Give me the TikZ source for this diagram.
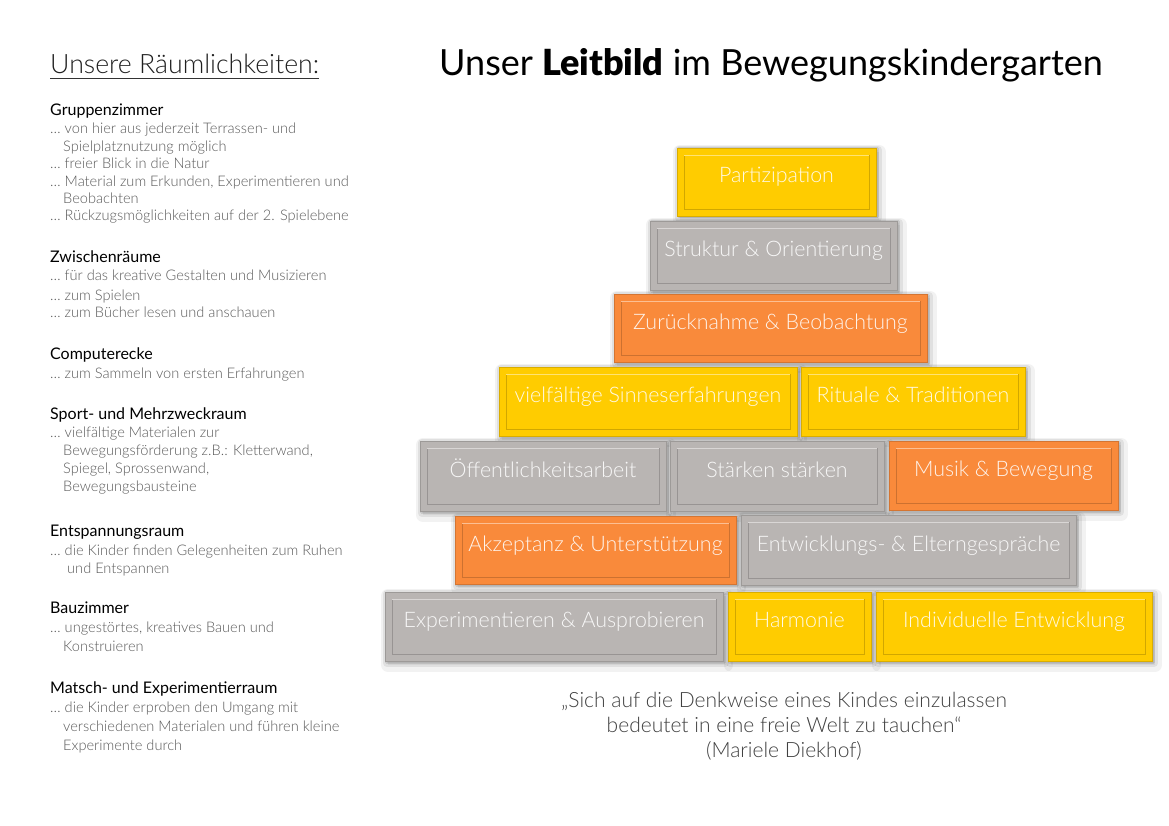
\documentclass[tikz,border=0pt]{standalone}
\usepackage{fontspec}
\setmainfont{Lato Light}
\newfontfamily\regf{Lato}
\newfontfamily\blackf{Lato Black}
\usetikzlibrary{calc}
\definecolor{cyel}{HTML}{FFCC00}
\definecolor{cora}{HTML}{F98A3B}
\definecolor{cgry}{HTML}{B9B5B3}
\definecolor{cbody}{HTML}{5A5A5A}
\definecolor{cquote}{HTML}{404040}
\pgfdeclarelayer{bgwhite}
\pgfdeclarelayer{bg}
\pgfsetlayers{bgwhite,bg,main}
\tikzset{
  x=1pt, y=-1pt,
  brickbase/.style={rectangle, inner sep=0pt, line width=0.6pt,
    font=\fontsize{21.4}{25}\selectfont, text=white, text opacity=.9,
    path picture={
      \draw[draw=\bcol!82!black, line width=0.8pt]
        ([shift={(7pt,-7pt)}]path picture bounding box.north west)
        rectangle ([shift={(-7pt,7pt)}]path picture bounding box.south east);
      \draw[draw=\bcol!55!white, line width=0.8pt]
        ([shift={(7pt,-7pt)}]path picture bounding box.north west)
        -- ([shift={(-7pt,-7pt)}]path picture bounding box.north east);
      \draw[draw=\bcol!60!white, line width=1pt]
        ([shift={(0pt,-0.5pt)}]path picture bounding box.north west)
        -- ([shift={(0pt,-0.5pt)}]path picture bounding box.north east);
    }},
  yel/.style={fill=cyel, draw=cyel!85!black, /utils/exec={\def\bcol{cyel}}},
  ora/.style={fill=cora, draw=cora!85!black, /utils/exec={\def\bcol{cora}}},
  gry/.style={fill=cgry, draw=cgry!85!black, /utils/exec={\def\bcol{cgry}}},
  shadowA/.style={draw=black, draw opacity=.05, fill=black, fill opacity=.05, line width=14pt, line join=round},
  shadowB/.style={draw=black, draw opacity=.07, fill=black, fill opacity=.05, line width=8pt, line join=round},
  shadowC/.style={draw=black, draw opacity=.10, fill=black, fill opacity=.05, line width=3pt, line join=round},
  head/.style={anchor=base west, inner sep=0pt, font=\regf\fontsize{16}{18}\selectfont, text=black},
  body/.style={anchor=base west, inner sep=0pt, font=\fontsize{14.6}{17}\selectfont, text=cbody},
  quote/.style={anchor=base, inner sep=0pt, font=\fontsize{21}{24}\selectfont, text=cquote},
}
\newcommand\brick[7]{%
  \pgfmathsetmacro\bw{#4-#2}\pgfmathsetmacro\bh{#5-#3}%
  \begin{pgfonlayer}{bg}
    \path[shadowA] (#2+3,#3+4) rectangle (#4+3,#5+4);
    \path[shadowB] (#2+2,#3+2) rectangle (#4+2,#5+2);
    \path[shadowC] (#2+1,#3+1) rectangle (#4+1,#5+1);
  \end{pgfonlayer}
  \node[brickbase,#6,minimum width=\bw pt,minimum height=\bh pt] (#1) at ({(#2+#4)/2},{(#3+#5)/2}) {\raisebox{4.5pt}[15pt][4pt]{#7}};}
\begin{document}
\begin{tikzpicture}
\begin{pgfonlayer}{bgwhite}
\useasboundingbox[fill=white] (0,0) rectangle (1169,826);
\end{pgfonlayer}

% title
\node[anchor=base, inner sep=0pt, font=\regf\fontsize{36}{40}\selectfont, text=black] (title) at (771,76)
  {Unser {\blackf Leitbild} im Bewegungskindergarten};

% left header
\node[anchor=base west, inner sep=0pt, font=\fontsize{26.7}{30}\selectfont, text=black!88] (lh) at (50,74) {Unsere Räumlichkeiten:};
\draw[line width=0.8pt, black!80] ([yshift=-4pt]lh.base west) -- ([yshift=-4pt]lh.base east);

% left column
\node[head] (h1) at (50,116) {Gruppenzimmer};
\node[body] (g1) at (50,134) {… von hier aus jederzeit Terrassen- und};
\node[body] (g2) at (63,152) {Spielplatznutzung möglich};
\node[body] (g3) at (50,169) {… freier Blick in die Natur};
\node[body] (g4) at (50,187) {… Material zum Erkunden, Experimentieren und};
\node[body] (g5) at (63,204) {Beobachten};
\node[body] (g6) at (50,221) {… Rückzugsmöglichkeiten auf der 2. Spielebene};

\node[head] (h2) at (50,262) {Zwischenräume};
\node[body] (z1) at (50,280) {… für das kreative Gestalten und Musizieren};
\node[body] (z2) at (50,300) {… zum Spielen};
\node[body] (z3) at (50,317) {… zum Bücher lesen und anschauen};

\node[head] (h3) at (50,359) {Computerecke};
\node[body] (c1) at (50,378) {… zum Sammeln von ersten Erfahrungen};

\node[head] (h4) at (50,419) {Sport- und Mehrzweckraum};
\node[body] (s1) at (50,437) {… vielfältige Materialen zur};
\node[body] (s2) at (63,455) {Bewegungsförderung z.B.: Kletterwand,};
\node[body] (s3) at (63,473) {Spiegel, Sprossenwand,};
\node[body] (s4) at (63,491) {Bewegungsbausteine};

\node[head] (h5) at (50,536) {Entspannungsraum};
\node[body] (e1) at (50,555) {… die Kinder finden Gelegenheiten zum Ruhen};
\node[body] (e2) at (67,573) {und Entspannen};

\node[head] (h6) at (50,613) {Bauzimmer};
\node[body] (b1) at (50,632) {… ungestörtes, kreatives Bauen und};
\node[body] (b2) at (63,651) {Konstruieren};

\node[head] (h7) at (50,693) {Matsch- und Experimentierraum};
\node[body] (m1) at (50,712) {… die Kinder erproben den Umgang mit};
\node[body] (m2) at (63,731) {verschiedenen Materialen und führen kleine};
\node[body] (m3) at (63,750) {Experimente durch};

% pyramid
\brick{p1}{677}{148}{876}{216}{yel}{Partizipation}
\brick{p2}{650}{221}{897}{290}{gry}{Struktur \& Orientierung}
\brick{p3}{614}{294}{927}{362}{ora}{Zurücknahme \& Beobachtung}
\brick{p4a}{499}{367}{797}{436}{yel}{vielfältige Sinneserfahrungen}
\brick{p4b}{801}{367}{1025}{436}{yel}{Rituale \& Traditionen}
\brick{p5a}{420}{441}{666}{511}{gry}{Öffentlichkeitsarbeit}
\brick{p5b}{670}{441}{884}{511}{gry}{Stärken stärken}
\brick{p5c}{889}{441}{1118}{510}{ora}{Musik \& Bewegung}
\brick{p6a}{455}{516}{736}{584}{ora}{Akzeptanz \& Unterstützung}
\brick{p6b}{741}{515}{1076}{585}{gry}{Entwicklungs- \& Elterngespräche}
\brick{p7a}{385}{592}{723}{661}{gry}{Experimentieren \& Ausprobieren}
\brick{p7b}{728}{592}{871}{661}{yel}{Harmonie}
\brick{p7c}{876}{592}{1152}{661}{yel}{Individuelle Entwicklung}

% quote
\node[quote] (q1) at (784,707) {„Sich auf die Denkweise eines Kindes einzulassen};
\node[quote] (q2) at (784,732) {bedeutet in eine freie Welt zu tauchen“};
\node[quote] (q3) at (784,757) {(Mariele Diekhof)};
\end{tikzpicture}
\end{document}
